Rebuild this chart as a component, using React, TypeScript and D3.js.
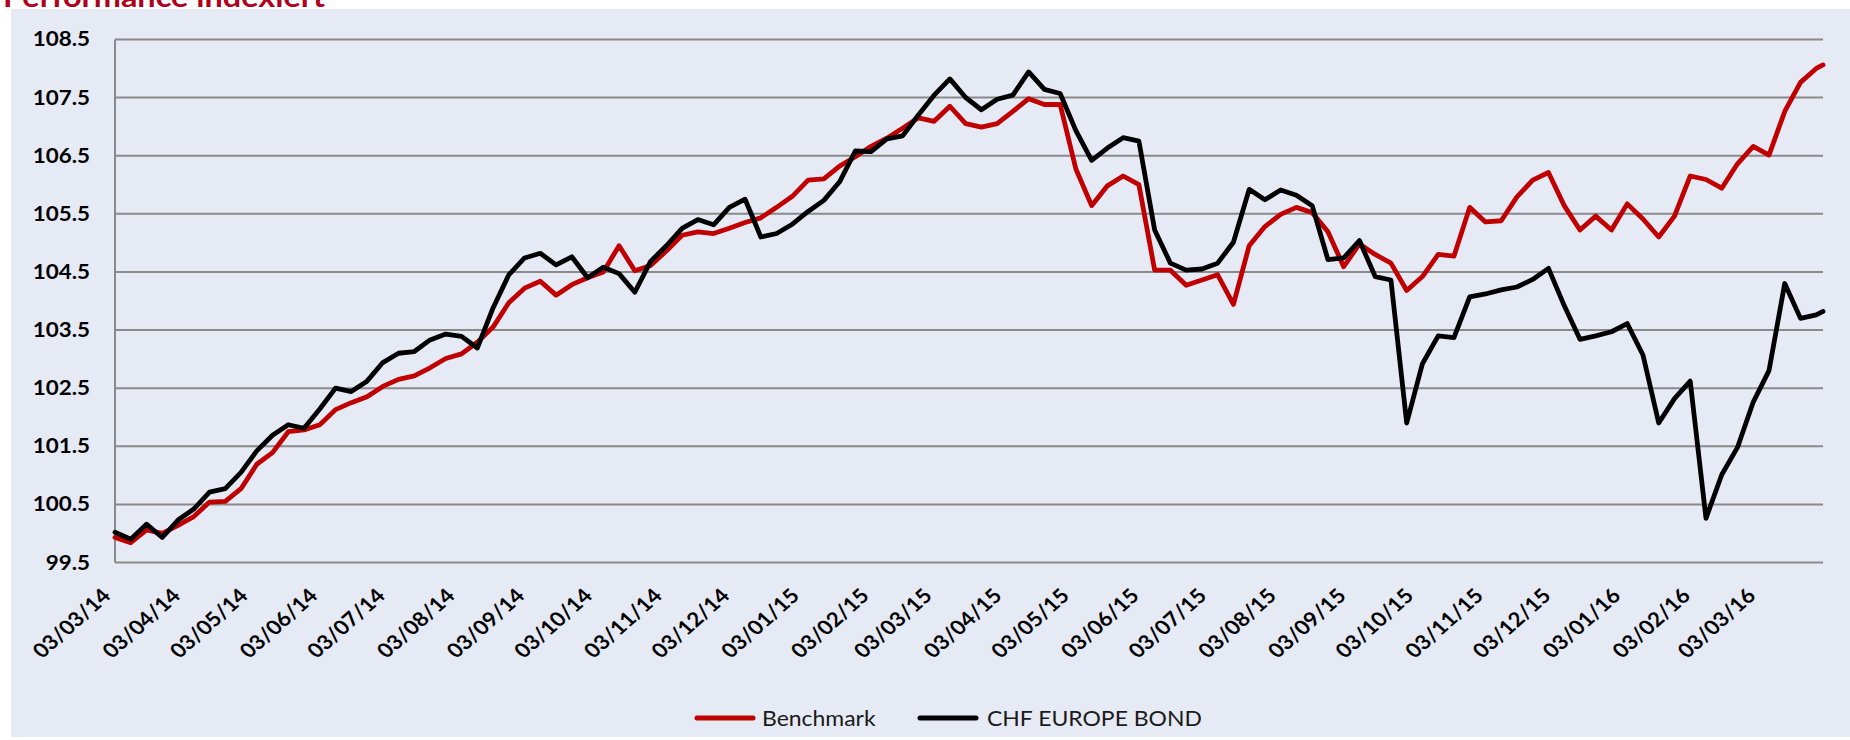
import React from 'react';
import * as d3 from 'd3';

// weekly observations, 03/03/14 .. 31/03/16
const start = new Date(2014, 2, 3);
const end = new Date(2016, 2, 31);
const dates = [...d3.timeDay.range(start, end, 7), end];

const benchmark = [
  99.93, 99.84, 100.06, 100.0, 100.14, 100.29, 100.54, 100.55, 100.77, 101.19,
  101.39, 101.75, 101.78, 101.87, 102.13, 102.25, 102.35, 102.53, 102.65, 102.71,
  102.85, 103.01, 103.09, 103.29, 103.55, 103.97, 104.22, 104.34, 104.1, 104.28,
  104.4, 104.5, 104.95, 104.52, 104.61, 104.86, 105.13, 105.19, 105.16, 105.25,
  105.35, 105.43, 105.61, 105.8, 106.08, 106.1, 106.32, 106.48, 106.66, 106.8,
  106.97, 107.15, 107.09, 107.35, 107.05, 106.99, 107.05, 107.26, 107.48, 107.38,
  107.38, 106.27, 105.64, 105.98, 106.15, 106.0, 104.53, 104.53, 104.27, 104.36,
  104.45, 103.94, 104.95, 105.28, 105.49, 105.61, 105.52, 105.19, 104.59, 104.98,
  104.8, 104.65, 104.18, 104.42, 104.8, 104.77, 105.61, 105.36, 105.38, 105.79,
  106.08, 106.21, 105.64, 105.22, 105.46, 105.22, 105.67, 105.41, 105.1, 105.46,
  106.15, 106.09, 105.94, 106.36, 106.66, 106.51, 107.26, 107.76, 108.0, 108.06,
];

const fund = [
  100.02, 99.9, 100.16, 99.93, 100.23, 100.42, 100.71, 100.77, 101.05, 101.42,
  101.69, 101.87, 101.81, 102.14, 102.5, 102.44, 102.62, 102.94, 103.1, 103.13,
  103.33, 103.43, 103.39, 103.19, 103.88, 104.45, 104.74, 104.82, 104.62, 104.76,
  104.4, 104.58, 104.47, 104.15, 104.68, 104.95, 105.25, 105.4, 105.31, 105.61,
  105.75, 105.1, 105.16, 105.32, 105.54, 105.73, 106.05, 106.58, 106.57, 106.79,
  106.84, 107.2, 107.54, 107.82, 107.5, 107.29, 107.47, 107.54, 107.94, 107.64,
  107.57, 106.93, 106.42, 106.63, 106.81, 106.75, 105.22, 104.65, 104.53, 104.55,
  104.65, 105.01, 105.92, 105.74, 105.91, 105.82, 105.64, 104.71, 104.74, 105.04,
  104.42, 104.36, 101.9, 102.92, 103.4, 103.37, 104.07, 104.12, 104.19, 104.24,
  104.37, 104.56, 103.92, 103.34, 103.4, 103.47, 103.61, 103.07, 101.9, 102.32,
  102.62, 100.26, 101.01, 101.48, 102.26, 102.8, 104.3, 103.7, 103.76, 103.82,
];

const yTicks = [99.5, 100.5, 101.5, 102.5, 103.5, 104.5, 105.5, 106.5, 107.5, 108.5];
const xTicks = d3
  .timeMonth.range(new Date(2014, 2, 1), new Date(2016, 2, 2))
  .map((d) => d3.timeDay.offset(d, 2));

const series = [
  { name: 'Benchmark', values: benchmark, color: '#c00000' },
  { name: 'CHF EUROPE BOND', values: fund, color: '#000000' },
];

const font = 'Lato, "Open Sans", sans-serif';
const sx = 1.12; // text in the original is a bit wide

function Label(props: { x: number; y: number; rot?: number; anchor?: string; size: number; bold?: boolean; fill?: string; children: any }) {
  const { x, y, rot = 0, anchor = 'start', size, bold, fill = '#000', children } = props;
  return (
    <text
      transform={`translate(${x},${y}) scale(${sx},1) rotate(${rot})`}
      textAnchor={anchor}
      fontFamily={font}
      fontSize={size}
      fontWeight={bold ? 700 : 400}
      fill={fill}
    >
      {children}
    </text>
  );
}

export default function App() {
  const left = 115, right = 1823, top = 39.4, bottom = 562.5;
  const x = d3.scaleTime().domain([start, end]).range([left, right]);
  const y = d3.scaleLinear().domain([99.5, 108.5]).range([bottom, top]);
  const fmt = d3.timeFormat('%d/%m/%y');

  const line = (vals: number[]) =>
    d3.line<number>()
      .x((_, i) => x(dates[i]))
      .y((v) => y(v))(vals) || '';

  return (
    <svg width={1850} height={740} style={{ position: 'absolute', left: 0, top: 0 }}>
      <rect x={0} y={0} width={1850} height={740} fill="#ffffff" />
      <Label x={3} y={6.5} size={29} bold fill="#b0001e">Performance indexiert</Label>
      <rect x={11} y={9} width={1839} height={728} fill="#e6eaf5" />

      {yTicks.map((t) => (
        <g key={t}>
          <line x1={left} x2={right} y1={y(t)} y2={y(t)} stroke="#8a8a8a" strokeWidth={2} />
          <Label x={90} y={y(t) + 7} anchor="end" size={20} bold>{t.toFixed(1)}</Label>
        </g>
      ))}
      <line x1={left} x2={left} y1={top} y2={bottom} stroke="#8a8a8a" strokeWidth={2} />

      {xTicks.map((t, i) => (
        <Label key={i} x={x(t) - 3} y={597} rot={-45} anchor="end" size={20} bold>{fmt(t)}</Label>
      ))}

      {series.map((s) => (
        <path key={s.name} d={line(s.values)} fill="none" stroke={s.color} strokeWidth={4.8} strokeLinejoin="round" strokeLinecap="round" />
      ))}

      <g>
        <line x1={697} x2={753} y1={718} y2={718} stroke={series[0].color} strokeWidth={5} strokeLinecap="round" />
        <Label x={762} y={726} size={20.5} fill="#1a1a1a">{series[0].name}</Label>
        <line x1={920} x2={976} y1={718} y2={718} stroke={series[1].color} strokeWidth={5} strokeLinecap="round" />
        <Label x={987} y={726} size={20.5} fill="#1a1a1a">{series[1].name}</Label>
      </g>
    </svg>
  );
}
